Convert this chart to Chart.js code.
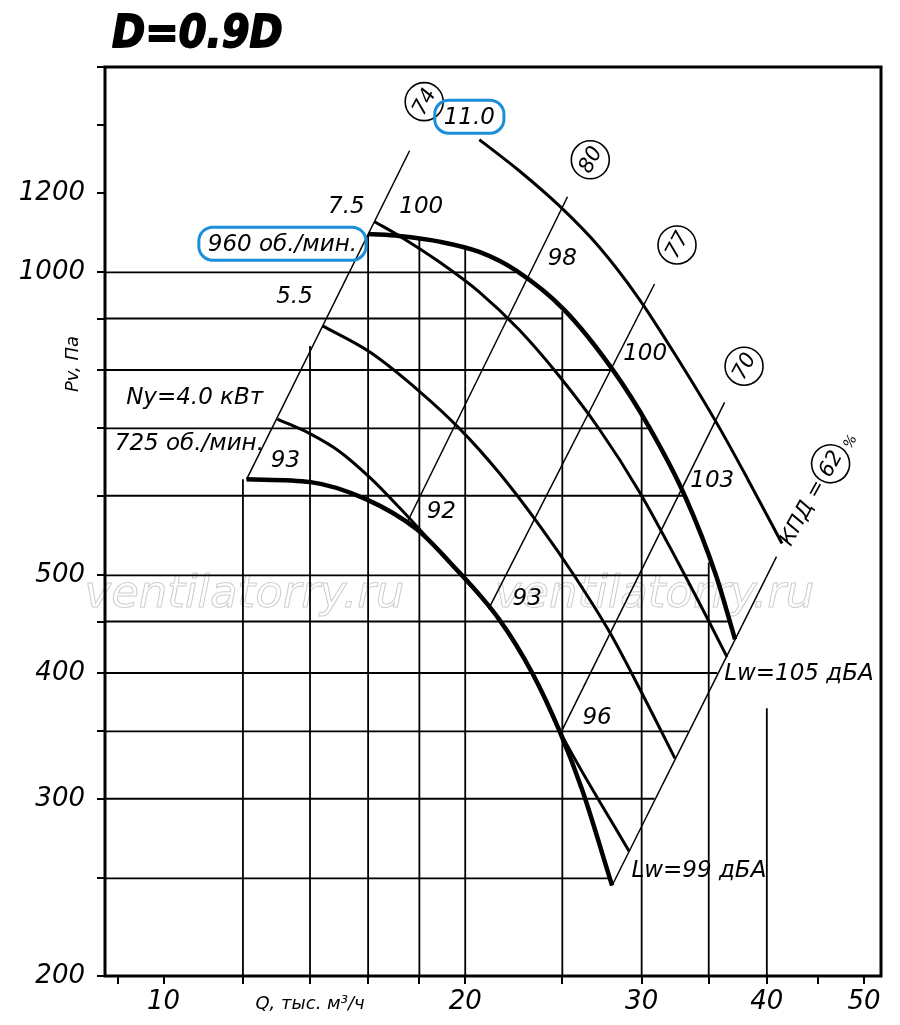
<!DOCTYPE html>
<html>
<head>
<meta charset="utf-8">
<script src="https://cdn.jsdelivr.net/npm/chart.js@4.4.1/dist/chart.umd.min.js"></script>
<style>
  html, body { margin: 0; padding: 0; background: #fff; }
  #wrap { width: 900px; height: 1025px; }
</style>
</head>
<body>
<div id="wrap"><canvas id="myChart" width="900" height="1025"></canvas></div>
<script>
// fan curves, Q in thousand m3/h, Pv in Pa
const curve725Q = [12.10, 14.02, 15.94, 17.88, 19.28, 21.63, 23.33, 24.82, 26.17, 28.03];
const curve725P = [623, 619, 595, 556, 516, 452, 400, 351, 306, 246];
const curve93Q = [12.99, 13.98, 14.98, 16.05, 17.19, 18.42, 19.28, 21.63, 23.33, 24.82, 29.15];
const curve93P = [715, 692, 664, 626, 584, 542, 515, 452, 400, 351, 266];
const curve55Q = [14.41, 16.05, 18.0, 19.73, 21.63, 23.71, 25.69, 27.84, 30.18, 32.39];
const curve55P = [885, 834, 762, 700, 632, 561, 500, 440, 378, 329];
const curve75Q = [16.24, 17.19, 18.85, 20.66, 22.64, 24.82, 27.21, 29.83, 32.69, 35.02, 36.50];
const curve75P = [1123, 1087, 1024, 956, 877, 789, 699, 606, 513, 450, 415];
const curve960Q = [16.01, 17.19, 18.85, 20.66, 22.49, 25.11, 28.03, 30.52, 33.15, 35.59, 37.18];
const curve960P = [1092, 1087, 1073, 1048, 1004, 918, 802, 702, 599, 500, 432];
const curve110Q = [20.66, 22.64, 24.82, 27.21, 29.83, 32.69, 35.84, 38.39, 41.42];
const curve110P = [1355, 1262, 1165, 1060, 941, 817, 702, 620, 538];

// efficiency rays (start / end)
const effQ = [[12.10, 17.6], [17.51, 25.3], [21.1, 30.9], [24.99, 36.3], [28.03, 40.9]];
const effP = [[623, 1321], [565, 1189], [463, 974], [351, 743], [246, 522]];

// grid pieces
const hGridP = [1000, 900, 800, 700, 600, 500, 450, 400, 350, 300, 250];
const hGridEndQ = [22.5, 25.0, 28.0, 30.6, 33.0, 35.0, 36.6, 35.7, 33.4, 30.9, 27.9];
const vGridQ = [12, 14, 16, 18, 20, 25, 30, 35, 40];
const vGridTopP = [623, 845, 1092, 1080, 1060, 915, 728, 515, 369];

// axes
const xMin = 8.74, xMax = 52;
const yMin = 200, yMax = 1600;
const xTicks = [9, 10, 12, 14, 16, 18, 20, 25, 30, 35, 40, 45, 50];
const xLabels = [10, 20, 30, 40, 50];
const yTicks = [200, 250, 300, 350, 400, 450, 500, 600, 700, 800, 900, 1000, 1200, 1400, 1600];
const yLabels = [200, 300, 400, 500, 1000, 1200];

// texts anchored at [Q, P]
const plainTexts = [
  ["7.5", 15.22, 1162], ["100", 18.08, 1162], ["5.5", 13.51, 945],
  ["Ny=4.0 кВт", 10.74, 750], ["725 об./мин.", 10.61, 675], ["93", 13.23, 649],
  ["92", 18.93, 578], ["93", 23.06, 474], ["96", 27.08, 361],
  ["98", 25.0, 1032], ["100", 30.24, 830], ["103", 35.28, 620],
  ["Lw=105 дБА", 43.06, 399], ["Lw=99 дБА", 34.22, 254]
];
const boxedTexts = [["960 об./мин.", 13.14, 1068], ["11.0", 20.19, 1428]];
const circleTexts = [["74", 18.20, 1478], ["80", 26.66, 1294], ["77", 32.54, 1065], ["70", 37.96, 807]];
const kpdAnchor = [41.8, 537];
const watermarkAt = [[12.04, 465], [30.9, 465]];

const FONT = '"DejaVu Sans", sans-serif';

function pts(qs, ps) {
  return qs.map((q, i) => ({ x: q, y: ps[i] }));
}

function line(data, width, smooth) {
  return {
    data: data,
    showLine: true,
    borderColor: "#000",
    borderWidth: width,
    pointRadius: 0,
    fill: false,
    cubicInterpolationMode: smooth ? "monotone" : "default",
    tension: 0
  };
}

const datasets = [];
hGridP.forEach((p, i) => datasets.push(line(pts([xMin, hGridEndQ[i]], [p, p]), 1.8)));
vGridQ.forEach((q, i) => datasets.push(line(pts([q, q], [yMin, vGridTopP[i]]), 1.8)));
effQ.forEach((qs, i) => datasets.push(line(pts(qs, effP[i]), 1.5)));
datasets.push(line(pts(curve725Q, curve725P), 4.5, true));
datasets.push(line(pts(curve960Q, curve960P), 4.5, true));
datasets.push(line(pts(curve93Q, curve93P), 3, true));
datasets.push(line(pts(curve55Q, curve55P), 3, true));
datasets.push(line(pts(curve75Q, curve75P), 3, true));
datasets.push(line(pts(curve110Q, curve110P), 3, true));

function roundBox(ctx, x, y, w, h, r) {
  ctx.beginPath();
  ctx.moveTo(x + r, y);
  ctx.lineTo(x + w - r, y);
  ctx.arc(x + w - r, y + r, r, -Math.PI / 2, 0);
  ctx.lineTo(x + w, y + h - r);
  ctx.arc(x + w - r, y + h - r, r, 0, Math.PI / 2);
  ctx.lineTo(x + r, y + h);
  ctx.arc(x + r, y + h - r, r, Math.PI / 2, Math.PI);
  ctx.lineTo(x, y + r);
  ctx.arc(x + r, y + r, r, Math.PI, Math.PI * 1.5);
  ctx.closePath();
}

const extras = {
  id: "extras",
  beforeDatasetsDraw(chart) {
    const ctx = chart.ctx, sx = chart.scales.x, sy = chart.scales.y;
    ctx.save();
    ctx.font = "italic 45px " + FONT;
    ctx.strokeStyle = "#cdcdcd";
    ctx.lineWidth = 1;
    ctx.textAlign = "center";
    ctx.textBaseline = "alphabetic";
    watermarkAt.forEach(([q, p]) => ctx.strokeText("ventilatorry.ru", sx.getPixelForValue(q), sy.getPixelForValue(p)));
    ctx.restore();
  },
  afterDatasetsDraw(chart) {
    const ctx = chart.ctx, sx = chart.scales.x, sy = chart.scales.y;
    const a = chart.chartArea;
    ctx.save();
    ctx.fillStyle = "#000";
    ctx.strokeStyle = "#000";
    ctx.textAlign = "center";
    ctx.textBaseline = "middle";

    ctx.font = "italic 23px " + FONT;
    plainTexts.forEach(([t, q, p]) => ctx.fillText(t, sx.getPixelForValue(q), sy.getPixelForValue(p)));

    // circled efficiency values
    circleTexts.forEach(([t, q, p]) => {
      const cx = sx.getPixelForValue(q), cy = sy.getPixelForValue(p);
      ctx.lineWidth = 1.6;
      ctx.beginPath();
      ctx.arc(cx, cy, 19, 0, Math.PI * 2);
      ctx.stroke();
      ctx.save();
      ctx.translate(cx, cy);
      ctx.rotate(-62 * Math.PI / 180);
      ctx.font = "italic 21px " + FONT;
      ctx.fillText(t, 0, 1);
      ctx.restore();
    });

    // КПД = 62 %
    ctx.save();
    ctx.translate(sx.getPixelForValue(kpdAnchor[0]), sy.getPixelForValue(kpdAnchor[1]));
    ctx.rotate(-61 * Math.PI / 180);
    ctx.textAlign = "left";
    ctx.font = "italic 21px " + FONT;
    ctx.fillText("КПД =", 0, 0);
    ctx.lineWidth = 1.6;
    ctx.beginPath();
    ctx.arc(92, 0, 19, 0, Math.PI * 2);
    ctx.stroke();
    ctx.textAlign = "center";
    ctx.fillText("62", 92, 1);
    ctx.font = "italic 14px " + FONT;
    ctx.fillText("%", 121, 7);
    ctx.restore();

    // blue rounded boxes
    ctx.font = "italic 23px " + FONT;
    boxedTexts.forEach(([t, q, p]) => {
      const cx = sx.getPixelForValue(q), cy = sy.getPixelForValue(p);
      const w = ctx.measureText(t).width + 18, h = 33;
      ctx.strokeStyle = "#1b8fd9";
      ctx.lineWidth = 3;
      roundBox(ctx, cx - w / 2, cy - h / 2, w, h, 14);
      ctx.stroke();
      ctx.fillText(t, cx, cy + 1);
    });

    // frame
    ctx.strokeStyle = "#000";
    ctx.lineWidth = 3;
    ctx.strokeRect(a.left, a.top, a.right - a.left, a.bottom - a.top);

    // axis titles
    ctx.font = "italic 18px " + FONT;
    ctx.fillText("Q, тыс. м³/ч", sx.getPixelForValue(14.0), a.bottom + 28);
    ctx.save();
    ctx.translate(a.left - 32, sy.getPixelForValue(811));
    ctx.rotate(-Math.PI / 2);
    ctx.fillText("Pv, Па", 0, 0);
    ctx.restore();

    // title
    ctx.save();
    ctx.textAlign = "left";
    ctx.textBaseline = "alphabetic";
    ctx.translate(a.left + 7, a.top - 20);
    ctx.scale(1, 1.12);
    ctx.font = "italic bold 40px " + FONT;
    ctx.lineWidth = 1.6;
    ctx.lineJoin = "round";
    ctx.fillText("D=0.9D", 0, 0);
    ctx.strokeText("D=0.9D", 0, 0);
    ctx.restore();

    ctx.restore();
  }
};

const tickFont = { family: "DejaVu Sans", size: 26, style: "italic" };

const chart = new Chart(document.getElementById("myChart"), {
  type: "scatter",
  data: { datasets: datasets },
  options: {
    responsive: false,
    animation: false,
    devicePixelRatio: 1,
    layout: { padding: { top: 67, right: 19, left: 0, bottom: 0 } },
    plugins: { legend: { display: false }, tooltip: { enabled: false } },
    scales: {
      x: {
        type: "logarithmic",
        min: xMin,
        max: xMax,
        afterBuildTicks: (s) => { s.ticks = xTicks.map((v) => ({ value: v })); },
        afterFit: (s) => { s.height = 49; },
        ticks: {
          autoSkip: false, maxRotation: 0, padding: 3, color: "#000", font: tickFont,
          callback: (v) => (xLabels.includes(v) ? String(v) : "")
        },
        grid: { drawOnChartArea: false, drawTicks: true, tickLength: 8, color: "#000", lineWidth: 2 },
        border: { display: false }
      },
      y: {
        type: "logarithmic",
        min: yMin,
        max: yMax,
        afterBuildTicks: (s) => { s.ticks = yTicks.map((v) => ({ value: v })); },
        afterFit: (s) => { s.width = 105; },
        ticks: {
          autoSkip: false, padding: 12, color: "#000", font: tickFont,
          callback: (v) => (yLabels.includes(v) ? String(v) : "")
        },
        grid: { drawOnChartArea: false, drawTicks: true, tickLength: 8, color: "#000", lineWidth: 2 },
        border: { display: false }
      }
    }
  },
  plugins: [extras]
});
</script>
</body>
</html>
